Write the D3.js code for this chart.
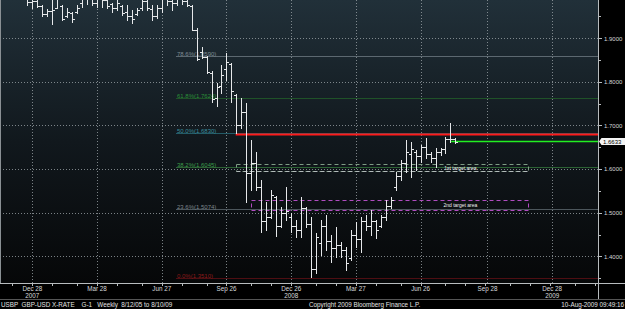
<!DOCTYPE html>
<html>
<head>
<meta charset="utf-8">
<script src="https://cdn.jsdelivr.net/npm/d3@7"></script>
<style>
  html, body { margin: 0; padding: 0; background: #000; overflow: hidden; }
  text { font-family: "Liberation Sans", Arial, sans-serif; }
</style>
</head>
<body>
<svg id="chart" width="625" height="309"></svg>
<script>
// weekly GBP-USD bars, first week ending Fri Dec 21 2007
const firstWeek = new Date(2007, 11, 21);

const opens = [2.0150,1.9840,1.9850,1.9730,1.9560,1.9620,1.9700,1.9750,1.9500,1.9580,
  1.9600,1.9800,2.0000,2.0150,1.9820,1.9980,1.9880,1.9780,1.9700,1.9750,
  1.9600,1.9520,1.9550,1.9700,1.9850,1.9680,1.9520,1.9700,1.9950,1.9850,
  1.9800,1.9950,1.9850,1.9750,1.9200,1.8680,1.8570,1.8200,1.7620,1.7900,
  1.8300,1.8400,1.7700,1.7020,1.7300,1.5900,1.6150,1.5600,1.4800,1.4900,
  1.5350,1.4700,1.5000,1.4900,1.4700,1.4600,1.5100,1.4750,1.3700,1.4300,
  1.4700,1.4350,1.4200,1.4250,1.4150,1.3950,1.4500,1.4400,1.4800,1.4700,
  1.4800,1.4700,1.4900,1.5150,1.5600,1.5850,1.6150,1.6350,1.6400,1.6300,
  1.6500,1.6350,1.6250,1.6400,1.6450,1.6700,1.6680];
const highs = [2.0290,2.0060,1.9990,1.9770,1.9670,1.9920,1.9960,1.9770,1.9690,1.9610,
  1.9760,2.0050,2.0240,2.0340,2.0060,2.0080,1.9990,1.9810,1.9990,1.9760,
  1.9760,1.9650,1.9690,1.9980,1.9960,1.9760,1.9760,2.0000,2.0050,2.0000,
  2.0020,2.0000,1.9950,1.9760,1.9240,1.8800,1.8590,1.8250,1.7970,1.8390,
  1.8660,1.8430,1.7720,1.7630,1.7510,1.6670,1.6390,1.5750,1.5250,1.5520,
  1.5380,1.5130,1.5600,1.4990,1.4830,1.5360,1.5130,1.4900,1.4540,1.4830,
  1.4950,1.4490,1.4670,1.4330,1.4210,1.4600,1.4790,1.4900,1.4950,1.5060,
  1.4830,1.4950,1.5290,1.5360,1.5930,1.6210,1.6670,1.6620,1.6440,1.6550,
  1.6710,1.6390,1.6480,1.6480,1.6740,1.7050,1.6705];
const lows = [1.9760,1.9690,1.9720,1.9500,1.9520,1.9330,1.9690,1.9420,1.9490,1.9380,
  1.9570,1.9720,1.9790,1.9760,1.9720,1.9720,1.9690,1.9600,1.9650,1.9530,
  1.9420,1.9350,1.9530,1.9650,1.9650,1.9420,1.9460,1.9600,1.9760,1.9650,
  1.9760,1.9790,1.9740,1.9190,1.8500,1.8550,1.8200,1.7540,1.7450,1.7740,
  1.8040,1.7540,1.6830,1.6940,1.5250,1.5520,1.5520,1.4560,1.4600,1.4880,
  1.4460,1.4670,1.4830,1.4560,1.4440,1.4440,1.4670,1.3520,1.3620,1.4030,
  1.4140,1.3870,1.3980,1.3980,1.3690,1.3910,1.4210,1.4100,1.4600,1.4490,
  1.4420,1.4670,1.4830,1.5110,1.5520,1.5750,1.5930,1.5820,1.5980,1.6160,
  1.6250,1.6160,1.6050,1.6320,1.6370,1.6620,1.6600];
const closes = [1.9840,1.9850,1.9750,1.9560,1.9620,1.9650,1.9900,1.9450,1.9600,1.9450,
  1.9700,2.0000,2.0150,1.9820,1.9980,1.9880,1.9750,1.9700,1.9800,1.9580,
  1.9500,1.9450,1.9650,1.9850,1.9700,1.9500,1.9700,1.9950,1.9850,1.9800,
  1.9950,1.9850,1.9760,1.9200,1.8520,1.8580,1.8230,1.7600,1.7880,1.8150,
  1.8460,1.7800,1.7000,1.7300,1.5900,1.6150,1.5600,1.4800,1.4900,1.5400,
  1.4700,1.5000,1.5050,1.4700,1.4600,1.5100,1.4750,1.3700,1.4450,1.4700,
  1.4350,1.4200,1.4250,1.4150,1.3850,1.4500,1.4400,1.4800,1.4700,1.4800,
  1.4600,1.4900,1.5150,1.5300,1.5850,1.6150,1.6400,1.6450,1.6300,1.6500,
  1.6350,1.6250,1.6400,1.6450,1.6700,1.6680,1.6633];

const lastPrice = 1.6633;
const redLevel = 1.6795;

// retracement levels
const fibNames = ["78.6%", "61.8%", "50.0%", "38.2%", "23.6%", "0.0%"];
const fibValues = [1.8590, 1.7624, 1.6830, 1.6045, 1.5074, 1.3510];
const fibLine = ["#5c6870", "#1f5228", "#245c68", "#2c6234", "#4c565c", "#4e0e12"];
const fibText = ["#7e8c94", "#2a9038", "#3a8c9c", "#3c9c4a", "#7c868c", "#8c1a1a"];

// target areas [top, bottom]
const targetNames = ["1st target area", "2nd target area"];
const targetTop = [1.6125, 1.5284];
const targetBottom = [1.5951, 1.5055];
const targetStart = [new Date(2008, 9, 9), new Date(2008, 9, 31)];
const targetEnd = new Date(2009, 10, 24);

const yTicks = [1.4, 1.5, 1.6, 1.7, 1.8, 1.9];
const yMinor = [1.35, 1.45, 1.55, 1.65, 1.75, 1.85, 1.95];

const xTickDates = [new Date(2007,11,28), new Date(2008,2,28), new Date(2008,5,27), new Date(2008,8,26),
  new Date(2008,11,26), new Date(2009,2,27), new Date(2009,5,26), new Date(2009,8,28), new Date(2009,11,28)];
const xTickLabels = ["Dec 28", "Mar 28", "Jun 27", "Sep 26", "Dec 26", "Mar 27", "Jun 26", "Sep 28", "Dec 28"];
const yearLabels = ["2007", "", "", "", "2008", "", "", "", "2009"];

const W = 625, H = 309, plotW = 598, plotH = 283;

const svg = d3.select("#chart");

const x = d3.scaleTime()
  .domain([new Date(2007, 10, 12, 12), new Date(2010, 2, 2, 12)])
  .range([0, plotW]);
const y = d3.scaleLinear().domain([1.4, 1.9]).range([256.3, 38.3]);

const px = v => Math.round(v) + 0.5;

svg.append("rect").attr("width", W).attr("height", H).attr("fill", "#000");

const defs = svg.append("defs");
const grad = defs.append("linearGradient").attr("id", "bg").attr("x1", 0).attr("y1", 0).attr("x2", 0).attr("y2", 1);
grad.append("stop").attr("offset", "0%").attr("stop-color", "#213039");
grad.append("stop").attr("offset", "50%").attr("stop-color", "#11181d");
grad.append("stop").attr("offset", "100%").attr("stop-color", "#060708");
defs.append("clipPath").attr("id", "clip").append("rect").attr("width", plotW).attr("height", plotH);

svg.append("rect").attr("width", plotW).attr("height", plotH).attr("fill", "url(#bg)");

const plot = svg.append("g").attr("clip-path", "url(#clip)");

// dotted grid
plot.selectAll("line.hg").data(yTicks).join("line")
  .attr("x1", 0).attr("x2", plotW)
  .attr("y1", d => px(y(d))).attr("y2", d => px(y(d)))
  .attr("stroke", "#a0a8ac").attr("stroke-opacity", 0.75).attr("stroke-dasharray", "1,2");
plot.selectAll("line.vg").data(xTickDates).join("line")
  .attr("x1", d => px(x(d))).attr("x2", d => px(x(d)))
  .attr("y1", 0).attr("y2", plotH)
  .attr("stroke", "#a0a8ac").attr("stroke-opacity", 0.75).attr("stroke-dasharray", "1,2");

// retracement lines
const fibX0 = x(new Date(2008, 6, 17));
fibValues.forEach((v, i) => {
  plot.append("line")
    .attr("x1", Math.round(fibX0)).attr("x2", plotW)
    .attr("y1", px(y(v))).attr("y2", px(y(v)))
    .attr("stroke", fibLine[i]);
  plot.append("text")
    .attr("x", fibX0 + 1).attr("y", px(y(v)) - 1)
    .attr("font-size", 6).attr("fill", fibText[i])
    .text(fibNames[i] + "(" + v.toFixed(4) + ")");
});

// target boxes
const boxColor = ["#7e9c84", "#b04cc0"];
targetNames.forEach((name, i) => {
  const x0 = px(x(targetStart[i])), x1 = px(x(targetEnd));
  const y0 = px(y(targetTop[i])), y1 = px(y(targetBottom[i]));
  plot.append("rect")
    .attr("x", x0).attr("y", y0).attr("width", x1 - x0).attr("height", y1 - y0)
    .attr("fill", "none").attr("stroke", boxColor[i]).attr("stroke-dasharray", "4,3");
  if (i === 0) {
    plot.append("line").attr("x1", x0).attr("x2", x1).attr("y1", y1).attr("y2", y1)
      .attr("stroke", "#b4bcbc").attr("stroke-dasharray", "4,3");
  }
  plot.append("text")
    .attr("x", x(new Date(2009, 7, 21))).attr("y", (y0 + y1) / 2 + 1.8)
    .attr("text-anchor", "middle").attr("font-size", 5).attr("fill", "#f0f0f0")
    .text(name);
});

// red level and last price line
plot.append("line")
  .attr("x1", x(new Date(2008, 9, 9))).attr("x2", plotW)
  .attr("y1", y(redLevel)).attr("y2", y(redLevel))
  .attr("stroke", "#ff1a1a").attr("stroke-width", 2);
plot.append("line")
  .attr("x1", x(new Date(2009, 7, 8))).attr("x2", plotW)
  .attr("y1", y(lastPrice)).attr("y2", y(lastPrice))
  .attr("stroke", "#22ee22").attr("stroke-width", 1.5);

// OHLC bars
const bars = opens.map((o, i) => ({
  date: d3.timeWeek.offset(firstWeek, i), o: o, h: highs[i], l: lows[i], c: closes[i]
}));
const bar = plot.selectAll("g.bar").data(bars).join("g").attr("stroke", "#e6e8ea");
bar.append("line")
  .attr("x1", d => px(x(d.date))).attr("x2", d => px(x(d.date)))
  .attr("y1", d => Math.round(y(d.h))).attr("y2", d => Math.round(y(d.l)) + 1);
bar.append("line")
  .attr("x1", d => px(x(d.date)) - 2.5).attr("x2", d => px(x(d.date)))
  .attr("y1", d => px(y(d.o))).attr("y2", d => px(y(d.o)));
bar.append("line")
  .attr("x1", d => px(x(d.date))).attr("x2", d => px(x(d.date)) + 2.5)
  .attr("y1", d => px(y(d.c))).attr("y2", d => px(y(d.c)));

// borders
svg.append("line").attr("x1", 0.5).attr("x2", 0.5).attr("y1", 0).attr("y2", plotH).attr("stroke", "#8a9094");
svg.append("line").attr("x1", 0).attr("x2", W).attr("y1", plotH + 0.5).attr("y2", plotH + 0.5).attr("stroke", "#b8bcbe");
svg.append("line").attr("x1", plotW + 0.5).attr("x2", plotW + 0.5).attr("y1", 0).attr("y2", 299).attr("stroke", "#b8bcbe");
svg.append("line").attr("x1", 0).attr("x2", W).attr("y1", 299.5).attr("y2", 299.5).attr("stroke", "#555");

// right axis
svg.selectAll("line.ymin").data(yMinor).join("line")
  .attr("x1", plotW).attr("x2", plotW + 3)
  .attr("y1", d => px(y(d))).attr("y2", d => px(y(d))).attr("stroke", "#b8bcbe");
svg.selectAll("line.ymaj").data(yTicks).join("line")
  .attr("x1", plotW).attr("x2", plotW + 4)
  .attr("y1", d => px(y(d))).attr("y2", d => px(y(d))).attr("stroke", "#b8bcbe");
svg.selectAll("text.ylab").data(yTicks).join("text")
  .attr("x", 604).attr("y", d => y(d) + 2.2)
  .attr("font-size", 6).attr("fill", "#d4d6d8")
  .text(d => d.toFixed(4));

// last price tag
const yc = y(lastPrice);
svg.append("polygon")
  .attr("points", [[599, yc], [601.5, yc - 3.5], [625, yc - 3.5], [625, yc + 3.5], [601.5, yc + 3.5]].join(" "))
  .attr("fill", "#f4f4f4");
svg.append("text").attr("x", 603).attr("y", yc + 2.2)
  .attr("font-size", 6).attr("fill", "#000").text(lastPrice.toFixed(4));

// bottom axis
const months = d3.timeMonth.range(new Date(2007, 10, 1), new Date(2010, 2, 1));
const monthEnds = months.map(m => d3.timeFriday.floor(new Date(m.getFullYear(), m.getMonth() + 1, 0)));
svg.selectAll("line.xmin").data(monthEnds).join("line")
  .attr("x1", d => px(x(d))).attr("x2", d => px(x(d)))
  .attr("y1", plotH).attr("y2", plotH + 3).attr("stroke", "#b8bcbe");
svg.selectAll("text.xlab").data(xTickDates).join("text")
  .attr("x", d => x(d)).attr("y", 290.5)
  .attr("text-anchor", "middle").attr("font-size", 6.3).attr("fill", "#d8dadc")
  .text((d, i) => xTickLabels[i]);
svg.selectAll("text.yr").data(xTickDates).join("text")
  .attr("x", d => x(d)).attr("y", 298)
  .attr("text-anchor", "middle").attr("font-size", 6.3).attr("fill", "#d8dadc")
  .text((d, i) => yearLabels[i]);

// footer
const foot = svg.append("g").attr("font-size", 6.3).attr("fill", "#e2e2e2");
foot.append("text").attr("x", 1).attr("y", 306.5).attr("xml:space", "preserve")
  .text("USBP  GBP-USD X-RATE    G-1   Weekly  8/12/05 to 8/10/09");
foot.append("text").attr("x", 309).attr("y", 306.5).text("Copyright 2009 Bloomberg Finance L.P.");
foot.append("text").attr("x", 624).attr("y", 306.5).attr("text-anchor", "end").text("10-Aug-2009 09:49:16");
</script>
</body>
</html>
